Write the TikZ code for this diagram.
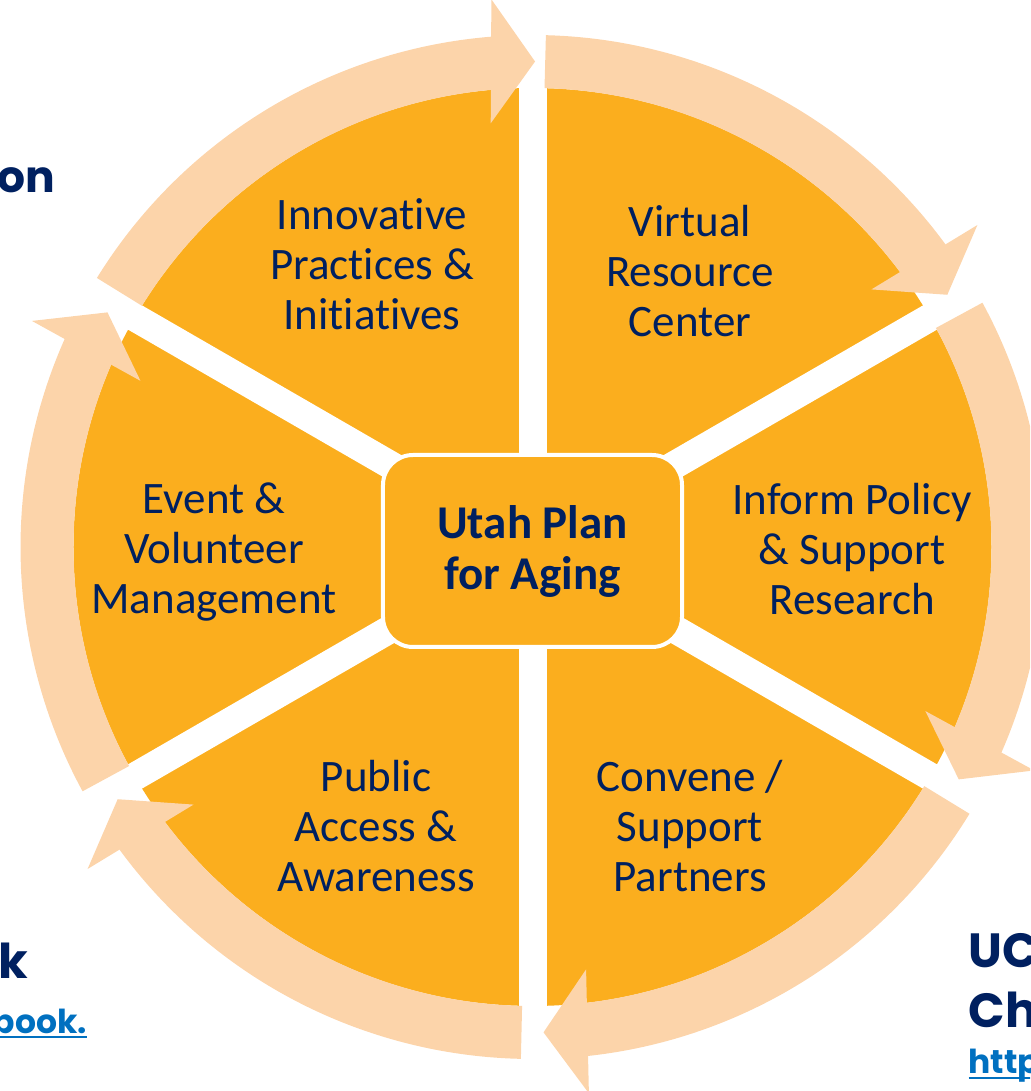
\documentclass[tikz,border=0pt]{standalone}
\usepackage{fontspec}
\setmainfont{Carlito}[Ligatures=NoCommon]
\newfontfamily\slidefont{Poppins}
\usetikzlibrary{calc}

\definecolor{petal}{RGB}{251,174,30}
\definecolor{ringpeach}{RGB}{252,212,170}
\definecolor{navy}{RGB}{0,32,96}
\definecolor{linkblue}{RGB}{0,112,192}

\tikzset{
  band/.style={fill=ringpeach},
  gapline/.style={draw=white, line width=28pt},
  sectortext/.style={text=navy, align=center, inner sep=0pt,
    font=\fontsize{45}{50}\selectfont},
  hubbox/.style={rounded corners=30pt, fill=petal, draw=white, line width=4pt,
    minimum width=299pt, minimum height=192pt, inner sep=0pt,
    text=navy, align=center, font=\bfseries\fontsize{47}{51}\selectfont},
  slidehead/.style={text=navy, inner sep=0pt,
    font=\slidefont\bfseries\fontsize{48}{56}\selectfont},
  slidesub/.style={text=navy, inner sep=0pt,
    font=\slidefont\bfseries\fontsize{44}{50}\selectfont},
  slidelink/.style={text=linkblue, inner sep=0pt,
    font=\slidefont\bfseries\fontsize{33}{40}\selectfont},
  linkrule/.style={draw=linkblue, line width=2pt},
}

% curved ring arrow running clockwise: #1 tail angle, #2 tip angle
\newcommand\ringarrow[2]{%
  \fill[band] (#1:512pt) arc[start angle=#1, end angle=#2+4.5, radius=512pt]
    -- (#2+4.5:459pt) arc[start angle=#2+4.5, end angle=#1, radius=459pt] -- cycle;
  \fill[band] ($(#2:547.5pt)+(#2+90:44pt)$) -- (#2:485.5pt)
    -- ($(#2:423.5pt)+(#2+90:44pt)$) -- cycle;
}

\begin{document}
\begin{tikzpicture}
\path[use as bounding box] (-532.5pt,-544pt) rectangle (497.5pt,547pt);
\clip (-532.5pt,-544pt) rectangle (497.5pt,547pt);

% slide text around the wheel
\node[slidesub, anchor=base west] (titletail) at (-535pt,354pt) {on};
\node[slidehead, anchor=base east] (leftword) at (-504.5pt,-431pt) {k};
\node[slidelink, anchor=base east] (leftlink) at (-445.5pt,-486pt) {book.};
\draw[linkrule] ([yshift=-4pt]leftlink.base west) -- ([yshift=-4pt]leftlink.base east);
\node[slidehead, anchor=base west] (rightone) at (436pt,-420pt) {UC};
\node[slidehead, anchor=base west] (righttwo) at (436pt,-480pt) {Ch};
\node[slidelink, anchor=base west] (rightlink) at (436pt,-526pt) {http};
\draw[linkrule] ([yshift=-5pt]rightlink.base west) -- ([yshift=-5pt]rightlink.base east);

% six sectors: a disc split by three white diameters
\fill[petal] (0,0) circle[radius=459pt];
\draw[gapline] (90:466pt) -- (-90:466pt);
\draw[gapline] (30:466pt) -- (210:466pt);
\draw[gapline] (150:466pt) -- (330:466pt);

% ring of arrows
\ringarrow{148.3}{89.7}
\ringarrow{88.5}{31.3}
\ringarrow{28.5}{-28.6}
\ringarrow{-31.4}{-88.7}
\ringarrow{-91.3}{-148.7}
\ringarrow{208.5}{151.1}

% hub
\node[hubbox] (hub) at (0pt,-4pt) {Utah Plan\\for Aging};

% sector labels
\node[sectortext] (innov) at (-160.5pt,283pt) {Innovative\\Practices \&\\Initiatives};
\node[sectortext] (virtual) at (157.5pt,276pt) {Virtual\\Resource\\Center};
\node[sectortext] (policy) at (319.5pt,-2pt) {Inform Policy\\\& Support\\Research};
\node[sectortext] (convene) at (157.5pt,-279pt) {Convene /\\Support\\Partners};
\node[sectortext] (public) at (-156.5pt,-279pt) {Public\\Access \&\\Awareness};
\node[sectortext] (event) at (-318.5pt,-5pt) {Event \&\\Volunteer\\Management};
\end{tikzpicture}
\end{document}
